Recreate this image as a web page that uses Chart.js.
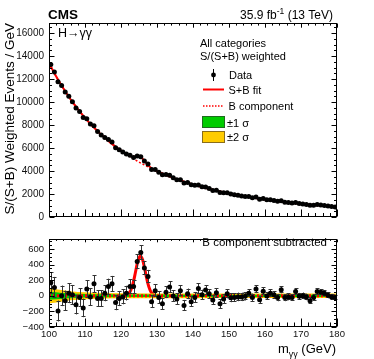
<!DOCTYPE html>
<html><head><meta charset="utf-8">
<script src="https://cdn.jsdelivr.net/npm/chart.js@4/dist/chart.umd.min.js"></script>
<style>
html,body{margin:0;padding:0;background:#fff;width:374px;height:359px;overflow:hidden}
canvas{position:absolute;left:0}
#top{top:0}
#bot{top:228px}
</style></head><body>
<canvas id="top" width="374" height="228" style="width:374px;height:228px"></canvas>
<canvas id="bot" width="374" height="131" style="width:374px;height:131px"></canvas>
<script>
// ---------------- data ----------------
const massBins = [100.5,101.5,102.5,103.5,104.5,105.5,106.5,107.5,108.5,109.5,
110.5,111.5,112.5,113.5,114.5,115.5,116.5,117.5,118.5,119.5,
120.5,121.5,122.5,123.5,124.5,125.5,126.5,127.5,128.5,129.5,
130.5,131.5,132.5,133.5,134.5,135.5,136.5,137.5,138.5,139.5,
140.5,141.5,142.5,143.5,144.5,145.5,146.5,147.5,148.5,149.5,
150.5,151.5,152.5,153.5,154.5,155.5,156.5,157.5,158.5,159.5,
160.5,161.5,162.5,163.5,164.5,165.5,166.5,167.5,168.5,169.5,
170.5,171.5,172.5,173.5,174.5,175.5,176.5,177.5,178.5,179.5];

const weightedEvents = [13266,12620,11765,11436,10876,10502,10034,9483,9173,8660,
8538,8094,7934,7433,7136,6923,6738,6518,6032,5851,
5650,5486,5367,5174,5311,5250,4880,4610,4134,4127,
3896,3680,3699,3642,3407,3252,3250,2956,3002,2805,
2763,2791,2623,2601,2473,2316,2335,2123,2116,2117,
2002,1944,1894,1837,1791,1778,1670,1730,1546,1609,
1505,1498,1436,1360,1423,1284,1258,1214,1257,1165,
1139,1095,1017,1028,1078,1043,1005,952,908,876];

const subtracted = [166,106,-195,0,-63,34,13,-115,-23,-155,
86,-14,154,-35,-35,34,118,154,-87,-35,
-14,34,118,118,440,556,355,247,-75,66,
-23,-103,46,114,-2,-42,66,-123,25,-75,
-23,94,13,74,25,-55,38,-103,-42,25,
-26,-23,-14,-14,-6,34,-23,86,-50,58,
-2,34,13,-23,78,-23,-14,-23,54,-6,
0,-14,-63,-23,54,46,34,6,-14,-23];

const statErrors = [138,136,134,132,130,128,126,124,121,119,
116,114,112,109,107,104,102,101,98,97,
95,94,91,90,92,91,88,85,82,80,
79,78,76,74,73,72,71,70,68,67,
66,66,65,64,62,61,60,60,59,58,
56,56,55,54,54,53,52,52,50,49,
49,48,48,47,46,46,44,44,43,43,
42,42,42,41,41,40,40,38,38,37];

const fitMass = [100, ...massBins, 180];
const bkgFit = [13405,13100,12514,11960,11436,10939,10468,10021,9598,9196,8815,
8452,8108,7780,7468,7171,6889,6620,6364,6119,5886,
5664,5452,5249,5056,4871,4694,4525,4363,4209,4061,
3919,3783,3653,3528,3409,3294,3184,3079,2977,2880,
2786,2697,2610,2527,2448,2371,2297,2226,2158,2092,
2028,1967,1908,1851,1797,1744,1693,1644,1596,1551,
1507,1464,1423,1383,1345,1307,1272,1237,1203,1171,
1139,1109,1080,1051,1024,997,971,946,922,899,888];
const sbFit = [13405,13100,12514,11960,11436,10939,10468,10021,9598,9196,8815,
8452,8108,7780,7468,7171,6889,6620,6364,6119,5886,
5665,5460,5300,5245,5279,5203,4891,4515,4245,4066,
3919,3783,3653,3528,3409,3294,3184,3079,2977,2880,
2786,2697,2610,2527,2448,2371,2297,2226,2158,2092,
2028,1967,1908,1851,1797,1744,1693,1644,1596,1551,
1507,1464,1423,1383,1345,1307,1272,1237,1203,1171,
1139,1109,1080,1051,1024,997,971,946,922,899,888];

const sigMass = [100,119,120,120.5,121,121.5,122,122.5,123,123.5,124,124.5,125,125.4,126,126.5,127,127.5,128,128.5,129,129.5,130,131,180];
const sigFit  = [0,0,0,0.7,2.5,8,21,51,105,189,298,408,488,510,462,366,253,152,80,36,15,5,1.5,0,0];
const bkgSubMass = [100,180];
const bkgSub = [0,0];

const bandMass = [100,101,102,103,104,105,106,108,110,112,115,120,130,140,150,160,170,180];
const band2sig = [100,92,85,78,71,64,58,50,44,40,36,33,31,30,29,28,28,28];
const band1sig = [52,48,44,40,37,33,30,26,23,21,19,17,16,15,15,14,14,14];

const xTickLabels = [100,110,120,130,140,150,160,170,180];
const topYTicks = [0,2000,4000,6000,8000,10000,12000,14000,16000];
const botYTicks = [-400,-200,0,200,400,600];

// ---------------- helpers ----------------
const FONT = '"Liberation Sans", Arial, Helvetica, sans-serif';
const xy = (xs, ys) => xs.map((x, i) => ({x, y: ys[i]}));
const neg = a => a.map(v => -v);

function frameTicks(cfg) {
  return {
    id: 'frameTicks',
    afterDraw(chart) {
      const {ctx, chartArea: a} = chart;
      const xs = chart.scales.x, ys = chart.scales.y;
      ctx.save();
      ctx.strokeStyle = '#000'; ctx.lineWidth = 1;
      const L = Math.round(a.left) + 0.5, R = Math.round(a.right) - 0.5;
      const T = Math.round(a.top) + 0.5, B = Math.round(a.bottom) - 0.5;
      ctx.strokeRect(L, T, R - L, B - T);
      ctx.beginPath();
      const isMajor = (v, m) => Math.abs(v / m - Math.round(v / m)) < 1e-6;
      for (let v = xs.min; v <= xs.max + 1e-9; v += cfg.xMinor) {
        const p = Math.round(xs.getPixelForValue(v)) + 0.5;
        const len = isMajor(v, cfg.xMajor) ? cfg.xLen : cfg.xLen / 2;
        ctx.moveTo(p, B); ctx.lineTo(p, B - len);
        ctx.moveTo(p, T); ctx.lineTo(p, T + len * cfg.topF);
      }
      const y0 = Math.ceil(ys.min / cfg.yMinor) * cfg.yMinor;
      for (let v = y0; v <= ys.max + 1e-9; v += cfg.yMinor) {
        const p = Math.round(ys.getPixelForValue(v)) + 0.5;
        const len = isMajor(v, cfg.yMajor) ? cfg.yLen : cfg.yLen / 2;
        ctx.moveTo(L, p); ctx.lineTo(L + len, p);
        ctx.moveTo(R, p); ctx.lineTo(R - len, p);
      }
      ctx.stroke();
      ctx.restore();
    }
  };
}

function errorBars(dsIndex, cap) {
  return {
    id: 'errorBars',
    beforeDatasetDraw(chart, args) {
      if (args.index !== dsIndex) return;
      const {ctx} = chart;
      const xs = chart.scales.x, ys = chart.scales.y;
      ctx.save();
      ctx.strokeStyle = '#333'; ctx.lineWidth = 1;
      ctx.beginPath();
      const d = chart.data.datasets[dsIndex];
      d.data.forEach((pt, i) => {
        const e = d.errors[i];
        const px = Math.round(xs.getPixelForValue(pt.x)) + 0.5;
        const y1 = ys.getPixelForValue(pt.y + e), y2 = ys.getPixelForValue(pt.y - e);
        ctx.moveTo(px, y1); ctx.lineTo(px, y2);
        if (cap) {
          ctx.moveTo(px - cap, Math.round(y1) + 0.5); ctx.lineTo(px + cap, Math.round(y1) + 0.5);
          ctx.moveTo(px - cap, Math.round(y2) - 0.5); ctx.lineTo(px + cap, Math.round(y2) - 0.5);
        }
      });
      ctx.stroke();
      ctx.restore();
    }
  };
}

function text(ctx, s, x, y, size, opts = {}) {
  ctx.font = (opts.bold ? 'bold ' : '') + size + 'px ' + FONT;
  ctx.textAlign = opts.align || 'left';
  ctx.textBaseline = 'alphabetic';
  ctx.fillStyle = opts.color || '#000';
  ctx.fillText(s, x, y);
  return ctx.measureText(s).width;
}
function width(ctx, s, size, bold) {
  ctx.font = (bold ? 'bold ' : '') + size + 'px ' + FONT;
  return ctx.measureText(s).width;
}

const topTexts = {
  id: 'topTexts',
  afterDraw(chart) {
    const ctx = chart.ctx;
    ctx.save();
    text(ctx, 'CMS', 48, 19, 13.5, {bold: true});
    const w1 = width(ctx, '35.9 fb', 12), w2 = width(ctx, '-1', 8.5), w3 = width(ctx, ' (13 TeV)', 12);
    let x = 333 - (w1 + w2 + w3);
    text(ctx, '35.9 fb', x, 19, 12); x += w1;
    text(ctx, '-1', x, 13.5, 8.5); x += w2;
    text(ctx, ' (13 TeV)', x, 19, 12);
    text(ctx, 'H\u2192\u03B3\u03B3', 58, 36.5, 12.5);
    ctx.save();
    ctx.translate(13.5, 23);
    ctx.rotate(-Math.PI / 2);
    text(ctx, 'S/(S+B) Weighted Events / GeV', 0, 0, 13.5, {align: 'right'});
    ctx.restore();
    text(ctx, 'All categories', 200, 46.5, 11);
    text(ctx, 'S/(S+B) weighted', 200, 60, 11);
    ctx.strokeStyle = '#000'; ctx.lineWidth = 1;
    ctx.beginPath(); ctx.moveTo(213.5, 69); ctx.lineTo(213.5, 81); ctx.stroke();
    ctx.fillStyle = '#000';
    ctx.beginPath(); ctx.arc(213.5, 75, 2.4, 0, Math.PI * 2); ctx.fill();
    text(ctx, 'Data', 229, 79, 11);
    ctx.strokeStyle = '#ff0000'; ctx.lineWidth = 2;
    ctx.beginPath(); ctx.moveTo(203, 89.5); ctx.lineTo(224, 89.5); ctx.stroke();
    text(ctx, 'S+B fit', 228.5, 93.5, 11);
    ctx.lineWidth = 1.5; ctx.setLineDash([1.5, 1.5]);
    ctx.beginPath(); ctx.moveTo(203, 106); ctx.lineTo(224, 106); ctx.stroke();
    ctx.setLineDash([]);
    text(ctx, 'B component', 228.5, 109.5, 11);
    ctx.fillStyle = '#00cc00'; ctx.fillRect(203, 117, 21, 10);
    ctx.strokeStyle = '#1f6b1f'; ctx.lineWidth = 1; ctx.strokeRect(202.5, 116.5, 22, 11);
    text(ctx, '\u00B11 \u03C3', 227, 126.5, 11);
    ctx.fillStyle = '#ffcc00'; ctx.fillRect(203, 132, 21, 10);
    ctx.strokeStyle = '#8a6d1a'; ctx.strokeRect(202.5, 131.5, 22, 11);
    text(ctx, '\u00B12 \u03C3', 227, 141, 11);
    ctx.restore();
  }
};

const botTexts = {
  id: 'botTexts',
  afterDraw(chart) {
    const ctx = chart.ctx;
    ctx.save();
    ctx.fillStyle = '#fff';
    text(ctx, 'B component subtracted', 327, 17.5, 11.5, {align: 'right'});
    const wA = width(ctx, 'm', 13), wB = width(ctx, '\u03B3\u03B3', 9), wC = width(ctx, ' (GeV)', 13);
    let x = 336 - (wA + wB + wC);
    text(ctx, 'm', x, 125, 13); x += wA;
    text(ctx, '\u03B3\u03B3', x, 128.5, 9); x += wB;
    text(ctx, ' (GeV)', x, 125, 13);
    ctx.restore();
  }
};

const fmt = v => (v < 0 ? '\u2212' + Math.abs(v) : String(v));

new Chart(document.getElementById('top'), {
  type: 'scatter',
  data: {
    datasets: [
      {data: xy(fitMass, bkgFit), showLine: true, borderColor: '#ff0000', borderWidth: 1.5,
       borderDash: [2, 2], pointRadius: 0, order: 3},
      {data: xy(fitMass, sbFit), showLine: true, borderColor: '#ff0000', borderWidth: 2,
       pointRadius: 0, cubicInterpolationMode: 'monotone', order: 2},
      {data: xy(massBins, weightedEvents), errors: statErrors, showLine: false,
       pointRadius: 2.5, pointBackgroundColor: '#000', pointBorderColor: '#000', pointBorderWidth: 0, order: 0}
    ]
  },
  options: {
    responsive: false, animation: false, devicePixelRatio: 1,
    layout: {padding: {left: 0, right: 37, top: 23, bottom: 8}},
    plugins: {legend: {display: false}, tooltip: {enabled: false}},
    scales: {
      x: {type: 'linear', min: 100, max: 180, display: false},
      y: {type: 'linear', min: 0, max: 16880,
          grid: {display: false, drawTicks: false}, border: {display: false},
          afterBuildTicks: s => { s.ticks = topYTicks.map(v => ({value: v})); },
          afterFit: s => { s.width = 49; },
          ticks: {padding: 5, font: {family: FONT, size: 10}, color: '#111', callback: v => fmt(v)}}
    }
  },
  plugins: [errorBars(2, 0), frameTicks({xMinor: 2, xMajor: 10, xLen: 7, topF: 0.6, yMinor: 500, yMajor: 2000, yLen: 5}), topTexts]
});

new Chart(document.getElementById('bot'), {
  type: 'scatter',
  data: {
    datasets: [
      {data: xy(sigMass, sigFit), showLine: true, borderColor: '#ff0000', borderWidth: 3,
       pointRadius: 0, cubicInterpolationMode: 'monotone', order: 9},
      {data: xy(bandMass, band2sig), showLine: true, borderWidth: 0, pointRadius: 0, fill: false, order: 8},
      {data: xy(bandMass, neg(band2sig)), showLine: true, borderWidth: 0, pointRadius: 0,
       fill: '-1', backgroundColor: '#ffcc00', order: 7},
      {data: xy(bandMass, band1sig), showLine: true, borderWidth: 0, pointRadius: 0, fill: false, order: 6},
      {data: xy(bandMass, neg(band1sig)), showLine: true, borderWidth: 0, pointRadius: 0,
       fill: '-1', backgroundColor: '#00cc00', order: 5},
      {data: xy(bkgSubMass, bkgSub), showLine: true, borderColor: '#ff0000', borderWidth: 3,
       borderDash: [2, 2], pointRadius: 0, order: 4},
      {data: xy(massBins, subtracted), errors: statErrors, showLine: false,
       pointRadius: 2.5, pointBackgroundColor: '#000', pointBorderColor: '#000', pointBorderWidth: 0, order: 0}
    ]
  },
  options: {
    responsive: false, animation: false, devicePixelRatio: 1,
    layout: {padding: {left: 0, right: 37, top: 5, bottom: 0}},
    plugins: {legend: {display: false}, tooltip: {enabled: false}, filler: {propagate: false}},
    scales: {
      x: {type: 'linear', min: 100, max: 180,
          grid: {display: false, drawTicks: false}, border: {display: false},
          afterBuildTicks: s => { s.ticks = xTickLabels.map(v => ({value: v})); },
          afterFit: s => { s.height = 32; },
          ticks: {padding: 2, maxRotation: 0, autoSkip: false, font: {family: FONT, size: 9.5}, color: '#111'}},
      y: {type: 'linear', min: -400, max: 732,
          grid: {display: false, drawTicks: false}, border: {display: false},
          afterBuildTicks: s => { s.ticks = botYTicks.map(v => ({value: v})); },
          afterFit: s => { s.width = 49; },
          ticks: {padding: 5, font: {family: FONT, size: 9.5}, color: '#111', callback: v => fmt(v)}}
    }
  },
  plugins: [errorBars(6, 2), frameTicks({xMinor: 2, xMajor: 10, xLen: 8, topF: 0.35, yMinor: 50, yMajor: 200, yLen: 5}), botTexts]
});
</script>
</body></html>
